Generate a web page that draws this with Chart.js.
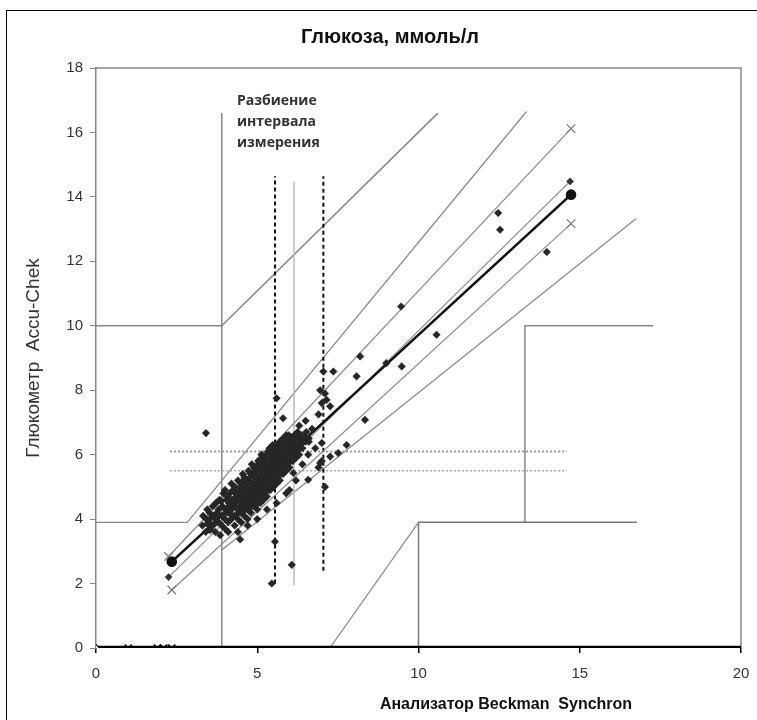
<!DOCTYPE html>
<html>
<head>
<meta charset="utf-8">
<script src="https://cdn.jsdelivr.net/npm/chart.js@4.4.0/dist/chart.umd.min.js"></script>
<style>
html, body { margin: 0; padding: 0; background: #fff; overflow: hidden; }
#wrap { position: relative; width: 757px; height: 720px; }
#wrap canvas { position: absolute; left: 0; top: 0; }
#frame { position: absolute; left: 6px; top: 10px; width: 800px; height: 800px; border: 1px solid #000; pointer-events: none; }
</style>
</head>
<body>
<div id="wrap">
    <canvas id="glucoseChart" width="757" height="720"></canvas>
    <div id="frame"></div>
</div>
<script>
// Пары (Beckman Synchron, Accu-Chek), ммоль/л
const samples = [
    [3.3,3.8],[3.32,4.1],[3.4,3.6],[3.42,4.0],[3.45,4.3],[3.5,3.9],[3.52,4.2],[3.55,3.7],
    [3.6,3.8],[3.62,4.4],[3.65,4.1],[3.7,3.6],[3.7,4.0],[3.72,4.5],[3.75,4.2],
    [3.8,3.9],[3.8,4.3],[3.83,4.6],[3.85,3.5],[3.9,3.8],[3.9,4.1],[3.92,4.4],[3.95,4.8],
    [4.0,3.7],[4.0,4.0],[4.02,4.3],[4.05,4.6],[4.0,4.9],[4.1,3.9],[4.1,4.2],[4.12,4.5],[4.15,4.8],[4.1,3.6],
    [4.2,4.0],[4.2,4.3],[4.22,4.6],[4.25,4.9],[4.2,5.1],[4.3,3.8],[4.3,4.1],[4.32,4.4],[4.35,4.7],[4.3,5.0],
    [4.4,4.0],[4.4,4.3],[4.42,4.6],[4.45,4.9],[4.4,5.2],[4.47,4.5],[4.5,3.9],[4.5,4.2],[4.52,4.5],[4.55,4.8],[4.5,5.1],[4.55,5.4],
    [4.6,4.1],[4.6,4.4],[4.62,4.7],[4.65,5.0],[4.6,5.3],[4.67,4.6],[4.7,4.0],[4.7,4.3],[4.72,4.6],[4.75,4.9],[4.7,5.2],[4.73,5.5],
    [4.8,4.2],[4.8,4.5],[4.82,4.8],[4.85,5.1],[4.8,5.4],[4.83,5.7],[4.9,4.4],[4.9,4.7],[4.92,5.0],[4.95,5.3],[4.9,5.6],[4.97,4.9],
    [5.0,4.3],[5.0,4.6],[5.02,4.9],[5.05,5.2],[5.0,5.5],[5.03,5.8],[5.1,4.5],[5.1,4.8],[5.12,5.1],[5.15,5.4],[5.1,5.7],[5.13,6.0],
    [5.2,4.6],[5.2,4.9],[5.22,5.2],[5.25,5.5],[5.2,5.8],[5.27,5.3],[5.3,4.7],[5.3,5.0],[5.32,5.3],[5.35,5.6],[5.3,5.9],[5.33,6.1],
    [5.4,4.9],[5.4,5.2],[5.42,5.5],[5.45,5.8],[5.4,6.1],[5.47,5.6],[5.5,5.0],[5.5,5.3],[5.52,5.6],[5.55,5.9],[5.5,6.2],
    [5.6,5.1],[5.6,5.4],[5.62,5.7],[5.65,6.0],[5.6,6.3],[5.7,5.2],[5.7,5.5],[5.72,5.8],[5.75,6.1],[5.7,6.4],
    [5.8,5.4],[5.8,5.7],[5.82,6.0],[5.85,6.3],[5.8,6.5],[5.9,5.5],[5.9,5.8],[5.92,6.1],[5.95,6.4],[5.9,6.6],
    [6.0,5.6],[6.0,5.9],[6.02,6.2],[6.05,6.5],[6.1,5.8],[6.1,6.1],[6.12,6.4],[6.15,6.6],
    [6.2,5.9],[6.2,6.2],[6.22,6.5],[6.25,6.7],[6.3,6.0],[6.3,6.3],[6.32,6.6],[6.4,6.2],[6.42,6.5],[6.5,6.4],[6.52,6.7],[6.6,6.5],
    [3.45,3.85],[3.58,4.05],[3.68,3.85],[3.78,4.15],[3.88,4.55],[3.98,4.15],[4.08,4.35],[4.08,4.7],[4.18,4.15],[4.18,4.45],
    [4.28,4.55],[4.28,4.85],[4.38,4.15],[4.38,4.75],[4.48,4.35],[4.48,4.65],[4.48,5.0],[4.58,4.25],[4.58,4.55],[4.58,4.85],
    [4.58,5.2],[4.68,4.45],[4.68,4.75],[4.68,5.1],[4.78,4.35],[4.78,4.65],[4.78,4.95],[4.78,5.3],[4.88,4.55],[4.88,4.85],
    [4.88,5.15],[4.88,5.45],[4.98,4.45],[4.98,4.75],[4.98,5.05],[4.98,5.35],[4.98,5.65],[5.08,4.65],[5.08,4.95],[5.08,5.25],
    [5.08,5.55],[5.08,5.85],[5.18,4.75],[5.18,5.05],[5.18,5.35],[5.18,5.65],[5.18,5.95],[5.28,4.85],[5.28,5.15],[5.28,5.45],
    [5.28,5.75],[5.28,6.0],[5.38,5.05],[5.38,5.35],[5.38,5.65],[5.38,5.95],[5.38,6.2],[5.48,5.15],[5.48,5.45],[5.48,5.75],
    [5.48,6.05],[5.48,6.3],[5.58,5.25],[5.58,5.55],[5.58,5.85],[5.58,6.15],[5.68,5.35],[5.68,5.65],[5.68,5.95],[5.68,6.25],
    [5.78,5.55],[5.78,5.85],[5.78,6.15],[5.78,6.4],[5.88,5.65],[5.88,5.95],[5.88,6.25],[5.88,6.5],[5.98,5.75],[5.98,6.05],
    [5.98,6.35],[5.98,6.6],[6.08,5.95],[6.08,6.25],[6.08,6.55],[6.18,6.05],[6.18,6.35],[6.18,6.6],[6.28,6.15],[6.28,6.45],
    [6.38,6.35],[6.38,6.6],[6.48,6.55],
    [3.41,6.67],[5.6,7.75],[5.8,7.13],[5.55,3.3],[5.45,2.0],[6.07,2.58],[4.47,3.37],[3.53,3.66],
    [7.05,8.58],[7.36,8.58],[6.95,8.0],[7.15,7.7],[7.0,7.6],[7.26,7.5],[7.1,7.9],
    [8.08,8.43],[8.19,9.05],[9.0,8.84],[9.48,8.74],[9.46,10.6],[10.56,9.72],[8.34,7.08],
    [7.77,6.3],[7.51,6.05],[6.58,6.0],[7.0,6.36],[7.1,5.0],[6.12,5.43],[6.58,5.22],[6.0,4.9],
    [6.3,6.9],[6.5,7.05],[6.7,6.8],[6.9,7.25],[6.6,6.4],[6.8,6.2],[6.9,5.6],[7.0,5.8],[6.4,5.7],
    [6.2,5.2],[5.9,4.8],[5.6,4.5],[5.3,4.3],[5.0,4.0],[4.7,3.8],[4.4,3.6],[6.95,5.74],[7.26,5.94],
    [12.47,13.5],[12.53,12.98],[13.98,12.29]
];

// Границы зон сетки ошибок
const zoneLeftVertical = [[3.9,0],[3.9,16.6]];
const zoneUpperLeft = [[0,10],[3.9,10],[10.6,16.6]];
const zoneUpperA = [[0,3.9],[2.83,3.9],[13.35,16.65]];
const zoneLowerA = [[3.9,3.04],[16.74,13.32]];
const zoneLowerC = [[7.25,0],[10,3.9]];
const zoneLowerRight = [[10,0],[10,3.9],[16.77,3.9]];
const zoneRightD = [[13.3,3.9],[13.3,10],[17.27,10]];

// Регрессия, линия равенства и границы
const regressionLine = [[2.35,2.68],[14.73,14.07]];
const identityLine = [[2.25,2.2],[14.7,14.48]];
const upperBand = [[2.25,2.84],[14.73,16.12]];
const lowerBand = [[2.35,1.8],[14.73,13.17]];

// Разбиение интервала измерения
const splitLow = [[5.55,2.0],[5.55,14.64]];
const splitHigh = [[7.05,2.4],[7.05,14.64]];
const splitMid = [[6.14,1.95],[6.14,14.48]];
const refUpper = [[2.3,6.1],[14.6,6.1]];
const refLower = [[2.3,5.5],[14.6,5.5]];

const baseline = [[0,0],[20,0]];
const zeroMarks = [1.0, 1.9, 2.1, 2.35];
const zeroOrigin = [[0,0]];

const xTicks = [0, 5, 10, 15, 20];
const yTicks = [0, 2, 4, 6, 8, 10, 12, 14, 16, 18];

const FONT = "'Liberation Sans', Arial, sans-serif";
const toXY = pts => pts.map(([x, y]) => ({ x, y }));

function lineSet(points, color, width, extra) {
    return Object.assign({
        data: toXY(points),
        showLine: true,
        borderColor: color,
        backgroundColor: color,
        borderWidth: width,
        pointRadius: 0,
        fill: false,
        tension: 0
    }, extra || {});
}

const textPlugin = {
    id: 'texts',
    beforeDatasetsDraw(chart) {
        const { ctx, chartArea: a } = chart;
        ctx.save();
        ctx.strokeStyle = '#888';
        ctx.lineWidth = 1.5;
        ctx.beginPath();
        ctx.moveTo(a.left, a.top);
        ctx.lineTo(a.right, a.top);
        ctx.lineTo(a.right, a.bottom);
        ctx.stroke();
        ctx.restore();
    },
    afterDraw(chart) {
        const ctx = chart.ctx;
        ctx.save();
        ctx.fillStyle = '#111';
        ctx.textBaseline = 'middle';
        ctx.textAlign = 'center';
        ctx.font = "bold 20px " + FONT;
        ctx.fillText('Глюкоза, ммоль/л', 390, 37);
        ctx.font = "bold 16px " + FONT;
        ctx.fillText('Анализатор Beckman  Synchron', 506, 705);
        ctx.textAlign = 'left';
        ctx.fillStyle = '#333';
        ctx.font = "bold 14px 'Open Sans', sans-serif";
        ctx.fillText('Разбиение', 237, 101);
        ctx.fillText('интервала', 237, 122);
        ctx.fillText('измерения', 237, 143);
        ctx.restore();
    }
};

const datasets = [
    { data: toXY(samples), showLine: false, pointStyle: 'rectRot', pointRadius: 3.8,
      backgroundColor: '#262626', borderColor: '#262626', borderWidth: 0.5 },
    { data: toXY(zeroOrigin), showLine: false, pointStyle: 'rectRot', pointRadius: 3.5,
      backgroundColor: '#fff', borderColor: '#000', borderWidth: 1.2 },
    { data: zeroMarks.map(x => ({ x, y: 0 })), showLine: false, pointStyle: 'crossRot', pointRadius: 5,
      borderColor: '#000', borderWidth: 1.6 },
    lineSet(baseline, '#000', 4.5),
    lineSet(regressionLine, '#111', 2.6, { pointRadius: 4, pointStyle: 'circle' }),
    lineSet(identityLine, '#888', 1.2, { pointRadius: 3, pointStyle: 'rectRot', pointBackgroundColor: '#333', pointBorderColor: '#333' }),
    lineSet(upperBand, '#888', 1.2, { pointRadius: 6, pointStyle: 'crossRot', pointBorderColor: '#777', pointBorderWidth: 1.2 }),
    lineSet(lowerBand, '#888', 1.2, { pointRadius: 6, pointStyle: 'crossRot', pointBorderColor: '#777', pointBorderWidth: 1.2 }),
    lineSet(splitLow, '#111', 2, { borderDash: [4, 3] }),
    lineSet(splitHigh, '#111', 2, { borderDash: [4, 3] }),
    lineSet(splitMid, '#bbb', 1.5),
    lineSet(refUpper, '#999', 2, { borderDash: [2, 2] }),
    lineSet(refLower, '#aaa', 1.5, { borderDash: [2, 2] }),
    lineSet(zoneLeftVertical, '#888', 1.5),
    lineSet(zoneUpperLeft, '#888', 1.5),
    lineSet(zoneUpperA, '#888', 1.2),
    lineSet(zoneLowerA, '#888', 1.2),
    lineSet(zoneLowerC, '#888', 1.2),
    lineSet(zoneLowerRight, '#777', 1.5),
    lineSet(zoneRightD, '#888', 1.5)
];

Chart.defaults.font.family = FONT;

new Chart(document.getElementById('glucoseChart'), {
    type: 'scatter',
    data: { datasets },
    options: {
        responsive: false,
        animation: false,
        layout: { padding: { top: 68, right: 16, left: 0, bottom: 0 } },
        plugins: {
            legend: { display: false },
            tooltip: { enabled: false },
            title: { display: false }
        },
        scales: {
            x: {
                type: 'linear', min: 0, max: 20,
                afterBuildTicks: s => { s.ticks = xTicks.map(v => ({ value: v })); },
                afterFit: s => { s.height = 72; s.paddingLeft = 0; s.paddingRight = 0; },
                ticks: { font: { size: 15 }, color: '#333', padding: 12 },
                grid: { drawOnChartArea: false, tickLength: 5, color: '#000', lineWidth: 1.5 },
                border: { display: false }
            },
            y: {
                type: 'linear', min: 0, max: 18,
                afterBuildTicks: s => { s.ticks = yTicks.map(v => ({ value: v })); },
                afterFit: s => { s.width = 96; s.paddingTop = 0; s.paddingBottom = 0; },
                ticks: { font: { size: 15 }, color: '#333', padding: 7 },
                grid: { drawOnChartArea: false, tickLength: 6, color: '#888' },
                border: { display: true, color: '#888', width: 1.5 },
                title: {
                    display: true, text: 'Глюкометр  Accu-Chek', color: '#333',
                    font: { size: 19 }, padding: { top: 22, bottom: 0 }
                }
            }
        }
    },
    plugins: [textPlugin]
});
</script>
</body>
</html>
